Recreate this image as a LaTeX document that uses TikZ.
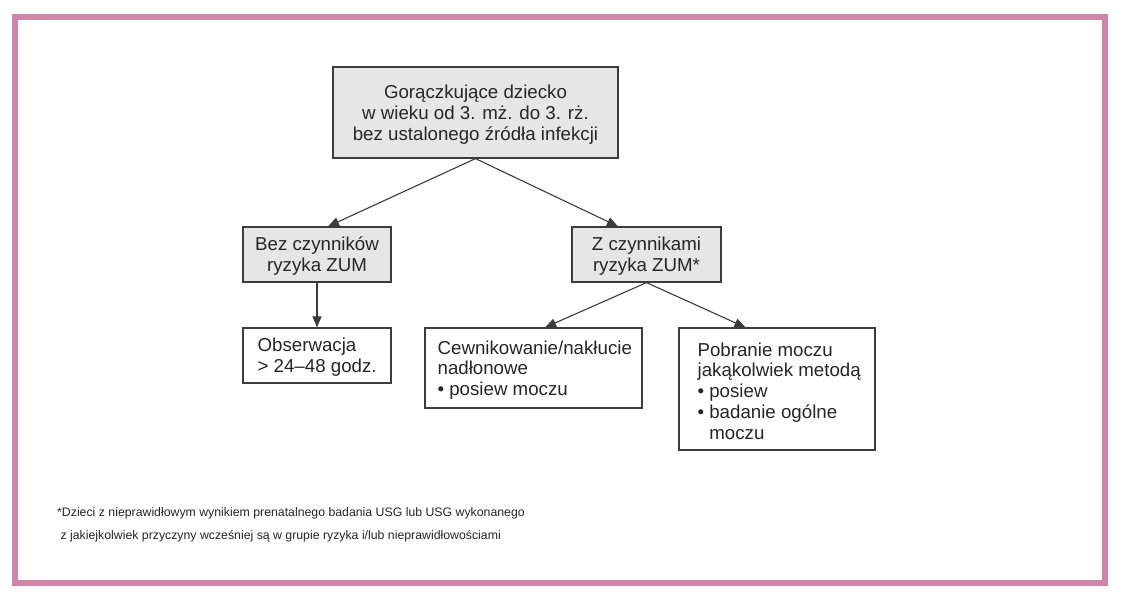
\documentclass[tikz,border=0pt]{standalone}
\usepackage{fontspec}
\setmainfont{Liberation Sans}
\usetikzlibrary{arrows.meta,calc}
\definecolor{framepink}{RGB}{207,134,168}
\definecolor{boxgray}{RGB}{230,230,230}
\definecolor{linegray}{RGB}{60,60,60}
\tikzset{
  boxtext/.style={font=\fontsize{18.7}{20.7}\selectfont, inner sep=0pt, text=black!85},
  graybox/.style={draw=linegray, line width=1.2pt, fill=boxgray},
  whitebox/.style={draw=linegray, line width=1.2pt, fill=white},
  ctext/.style={boxtext, align=center},
  ltext/.style={boxtext, align=left, anchor=west},
  conn/.style={draw=linegray, line width=1.1pt, -{Triangle[length=11pt,width=9pt]}}
}
\begin{document}
\begin{tikzpicture}[x=1pt,y=-1pt]
\useasboundingbox (0,0) rectangle (1128,598);
\fill[white] (0,0) rectangle (1128,598);
\draw[framepink, line width=6pt] (14.5,17) rectangle (1104.5,583);

\node[graybox, minimum width=285pt, minimum height=91pt] (top) at (475.5,112.5) {};
\node[ctext] (topt) at ($(top.center)+(0,2)$)
  {Gorączkujące dziecko\\w wieku od 3. mż. do 3. rż.\\bez ustalonego źródła infekcji};
\node[graybox, minimum width=148pt, minimum height=55pt] (bez) at (317,254.5) {};
\node[ctext] (bezt) at ($(bez.center)+(0,1.5)$) {Bez czynników\\ryzyka ZUM};
\node[graybox, minimum width=149pt, minimum height=55pt] (zcz) at (646.5,254.5) {};
\node[ctext] (zczt) at ($(zcz.center)+(0,1.5)$) {Z czynnikami\\ryzyka ZUM*};

\node[whitebox, minimum width=148pt, minimum height=55pt] (obs) at (317,355.5) {};
\node[ltext] (obst) at ($(obs.west)+(15,2)$) {Obserwacja\\> 24–48 godz.};
\node[whitebox, minimum width=217pt, minimum height=80pt] (cew) at (533.5,368) {};
\node[ltext] (cewt) at ($(cew.west)+(13,2)$)
  {Cewnikowanie/nakłucie\\nadłonowe\\\textbullet{} posiew moczu};
\node[whitebox, minimum width=196pt, minimum height=122pt] (pob) at (777,389) {};
\node[ltext] (pobt) at ($(pob.west)+(19,2)$)
  {Pobranie moczu\\jakąkolwiek metodą\\\textbullet{} posiew\\\textbullet{} badanie ogólne\\\phantom{\textbullet{} }moczu};

\draw[conn] (top.south) -- ($(bez.north west)!0.574!(bez.north east)$);
\draw[conn] (top.south) -- ($(zcz.north west)!0.31!(zcz.north east)$);
\draw[conn] (bez.south) -- (obs.north);
\draw[conn] (zcz.south) -- ($(cew.north west)!0.553!(cew.north east)$);
\draw[conn] (zcz.south) -- ($(pob.north west)!0.34!(pob.north east)$);

\node[anchor=west, align=left, font=\fontsize{12.3}{23}\selectfont, inner sep=0pt, text=black!85] (note) at (57,524.5)
  {*Dzieci z nieprawidłowym wynikiem prenatalnego badania USG lub USG wykonanego\\
  \ z jakiejkolwiek przyczyny wcześniej są w grupie ryzyka i/lub nieprawidłowościami};
\end{tikzpicture}
\end{document}
